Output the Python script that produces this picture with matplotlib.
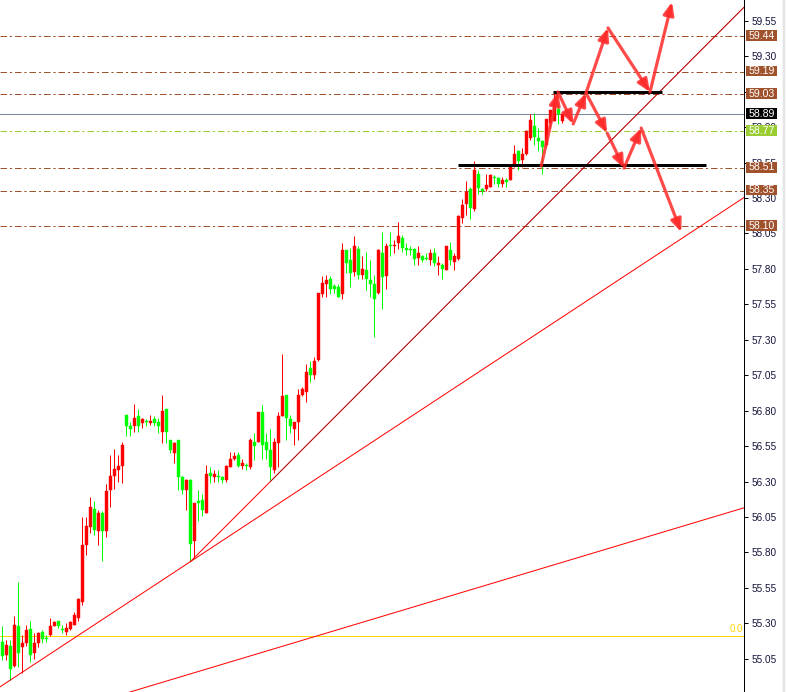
import matplotlib
matplotlib.use("Agg")
import matplotlib.pyplot as plt
import numpy as np
from matplotlib.patches import Rectangle
from matplotlib.transforms import blended_transform_factory

# ---------------- data ----------------
opens = [55.17, 55.08, 55.14, 55.00, 55.28, 55.13, 55.16, 55.26, 55.09, 55.16,
         55.24, 55.20, 55.22, 55.28, 55.32, 55.26, 55.24, 55.26, 55.29, 55.34,
         55.45, 55.85, 55.98, 56.11, 55.95, 56.08, 55.95, 56.24, 56.34, 56.38,
         56.41, 56.77, 56.69, 56.69, 56.76, 56.71, 56.73, 56.71, 56.74, 56.72,
         56.65, 56.81, 56.59, 56.50, 56.59, 56.33, 56.24, 56.31, 55.88, 56.16,
         56.17, 56.08, 56.36, 56.33, 56.34, 56.33, 56.31, 56.40, 56.46, 56.49,
         56.41, 56.42, 56.40, 56.58, 56.58, 56.79, 56.58, 56.52, 56.38, 56.57,
         56.76, 56.91, 56.74, 56.67, 56.72, 56.91, 56.93, 57.10, 57.05, 57.16,
         57.62, 57.69, 57.73, 57.68, 57.67, 57.62, 57.93, 57.86, 57.78, 57.94,
         57.76, 57.79, 57.72, 57.69, 57.63, 57.91, 57.75, 57.97, 57.96, 57.98,
         58.02, 57.95, 57.94, 57.94, 57.88, 57.89, 57.88, 57.86, 57.91, 57.83,
         57.83, 57.79, 57.93, 57.85, 57.87, 58.16, 58.26, 58.36, 58.22, 58.47,
         58.36, 58.36, 58.38, 58.45, 58.44, 58.40, 58.43, 58.43, 58.54, 58.63,
         58.57, 58.61, 58.72, 58.81, 58.72, 58.70, 58.67, 58.83, 58.84, 58.93,
         58.84]
highs = [55.28, 55.18, 55.18, 55.35, 55.59, 55.22, 55.29, 55.32, 55.23, 55.24,
         55.25, 55.22, 55.34, 55.32, 55.32, 55.29, 55.30, 55.32, 55.38, 55.48,
         56.05, 56.05, 56.19, 56.16, 56.10, 56.09, 56.28, 56.49, 56.53, 56.49,
         56.58, 56.77, 56.72, 56.85, 56.81, 56.75, 56.74, 56.77, 56.76, 56.75,
         56.91, 56.81, 56.59, 56.58, 56.59, 56.34, 56.32, 56.32, 56.15, 56.24,
         56.21, 56.42, 56.40, 56.38, 56.38, 56.34, 56.42, 56.51, 56.51, 56.51,
         56.46, 56.43, 56.61, 56.64, 56.79, 56.84, 56.64, 56.67, 56.61, 56.79,
         57.20, 56.91, 56.77, 56.72, 56.95, 56.97, 57.13, 57.15, 57.18, 57.63,
         57.75, 57.76, 57.75, 57.69, 57.69, 57.98, 57.93, 57.95, 58.03, 57.96,
         57.89, 57.92, 57.86, 57.76, 57.94, 58.06, 57.98, 58.06, 58.00, 58.13,
         58.04, 57.98, 57.96, 57.95, 57.96, 57.90, 57.91, 57.94, 57.95, 57.89,
         57.84, 57.96, 57.99, 57.91, 58.18, 58.29, 58.42, 58.38, 58.56, 58.50,
         58.37, 58.47, 58.47, 58.46, 58.45, 58.45, 58.44, 58.53, 58.67, 58.64,
         58.65, 58.78, 58.89, 58.90, 58.79, 58.71, 58.86, 58.92, 59.04, 58.96,
         58.90]
lows = [55.04, 55.04, 54.90, 54.99, 54.99, 54.95, 55.14, 55.03, 55.05, 55.13,
        55.16, 55.17, 55.21, 55.28, 55.27, 55.23, 55.22, 55.25, 55.29, 55.32,
        55.43, 55.78, 55.94, 55.92, 55.85, 55.74, 55.91, 56.12, 56.25, 56.30,
        56.29, 56.62, 56.62, 56.65, 56.65, 56.68, 56.69, 56.70, 56.69, 56.64,
        56.57, 56.57, 56.50, 56.43, 56.24, 56.21, 56.10, 55.74, 55.76, 56.02,
        56.06, 56.08, 56.29, 56.30, 56.30, 56.29, 56.30, 56.40, 56.45, 56.40,
        56.39, 56.38, 56.39, 56.45, 56.58, 56.46, 56.46, 56.31, 56.36, 56.40,
        56.76, 56.59, 56.64, 56.56, 56.59, 56.90, 56.86, 57.00, 57.02, 57.15,
        57.60, 57.60, 57.62, 57.63, 57.60, 57.59, 57.77, 57.67, 57.75, 57.73,
        57.73, 57.65, 57.60, 57.32, 57.62, 57.52, 57.66, 57.89, 57.91, 57.94,
        57.92, 57.90, 57.90, 57.83, 57.83, 57.85, 57.86, 57.83, 57.82, 57.76,
        57.73, 57.79, 57.83, 57.79, 57.86, 58.12, 58.18, 58.15, 58.21, 58.33,
        58.33, 58.35, 58.38, 58.40, 58.38, 58.38, 58.38, 58.43, 58.52, 58.50,
        58.52, 58.60, 58.71, 58.67, 58.63, 58.47, 58.66, 58.79, 58.84, 58.82,
        58.83]
closes = [55.07, 55.15, 54.98, 55.29, 55.09, 55.16, 55.25, 55.08, 55.16, 55.23,
          55.19, 55.19, 55.28, 55.31, 55.28, 55.25, 55.27, 55.31, 55.36, 55.47,
          55.85, 55.99, 56.12, 55.96, 56.08, 55.95, 56.23, 56.34, 56.39, 56.41,
          56.56, 56.69, 56.67, 56.75, 56.69, 56.74, 56.72, 56.73, 56.71, 56.69,
          56.80, 56.65, 56.52, 56.57, 56.33, 56.24, 56.31, 55.86, 56.15, 56.15,
          56.10, 56.35, 56.34, 56.35, 56.33, 56.31, 56.41, 56.46, 56.48, 56.41,
          56.43, 56.41, 56.59, 56.55, 56.79, 56.56, 56.52, 56.40, 56.58, 56.76,
          56.90, 56.75, 56.69, 56.72, 56.91, 56.95, 57.07, 57.05, 57.15, 57.63,
          57.70, 57.72, 57.66, 57.66, 57.60, 57.93, 57.84, 57.77, 57.96, 57.76,
          57.80, 57.73, 57.69, 57.59, 57.93, 57.74, 57.96, 57.96, 57.97, 58.03,
          57.95, 57.93, 57.93, 57.87, 57.91, 57.86, 57.87, 57.91, 57.84, 57.84,
          57.80, 57.96, 57.86, 57.89, 58.17, 58.25, 58.34, 58.23, 58.50, 58.37,
          58.35, 58.39, 58.46, 58.44, 58.40, 58.43, 58.41, 58.52, 58.61, 58.56,
          58.61, 58.77, 58.85, 58.73, 58.70, 58.66, 58.86, 58.92, 58.98, 58.89,
          58.89]

# horizontal levels
level_prices = [59.44, 59.19, 59.03, 58.51, 58.35, 58.10]
level_labels = ["59.44", "59.19", "59.03", "58.51", "58.35", "58.10"]
current_price = 58.89
current_label = "58.89"
green_level = 58.77
green_label = "58.77"
zero_level = 55.21
zero_label = "0.0"

# y axis tick values
tick_values = [59.55, 59.30, 59.05, 58.80, 58.55, 58.30, 58.05, 57.80, 57.55,
               57.30, 57.05, 56.80, 56.55, 56.30, 56.05, 55.80, 55.55, 55.30, 55.05]

# trend lines (bar index, price)
trend_a = [(2, 54.90), (47, 55.735)]
trend_b = [(47, 55.735), (67, 56.30)]
black_start = 67
trend_c = [(32.75, 54.823), (185.4, 56.115)]

# black support / resistance segments
seg_low = [(113.9, 58.53), (175.9, 58.53)]
seg_high = [(137.7, 59.045), (164.9, 59.045)]

# arrow paths (bar index, price)
arrows = [
    [(134.7, 58.525), (138.9, 59.047)],
    [(138.9, 59.047), (142.7, 58.822)],
    [(142.7, 58.822), (145.9, 59.040)],
    [(145.9, 59.040), (151.4, 59.499)],
    [(151.4, 59.499), (161.9, 59.047)],
    [(161.9, 59.047), (167.4, 59.682)],
    [(145.9, 59.040), (151.2, 58.758)],
    [(151.2, 58.758), (155.4, 58.511)],
    [(155.4, 58.511), (159.7, 58.793)],
    [(159.7, 58.793), (169.7, 58.060)],
]

# ---------------- figure ----------------
W, H = 786, 692
DPI = 100
fig = plt.figure(figsize=(W / DPI, H / DPI), dpi=DPI)
fig.patch.set_facecolor("white")
AX_RIGHT = 744
ax = fig.add_axes([0, 0, AX_RIGHT / W, 1])
ax.set_facecolor("white")

XMIN, XMAX = -0.575, 185.4
YMIN, YMAX = 54.816, 59.696
ax.set_xlim(XMIN, XMAX)
ax.set_ylim(YMIN, YMAX)

PX = 0.72  # one pixel in points

RED = "#ff0000"
GREEN = "#00ff00"
BROWN = "#a0522d"

# candles
n = len(opens)
idx = np.arange(n)
o = np.array(opens); h = np.array(highs); l = np.array(lows); c = np.array(closes)
up = c >= o
cols = np.where(up, RED, GREEN)
ax.vlines(idx, l, h, colors=cols, linewidth=1 * PX, zorder=3)
bottoms = np.minimum(o, c)
heights = np.maximum(np.abs(c - o), 0.008)
ax.bar(idx, heights, bottom=bottoms, width=0.75, color=cols, edgecolor=cols,
       linewidth=0.3, zorder=3)

# horizontal levels
dash = (0, (6.5, 2.9, 2.2, 2.9))
for p in level_prices:
    ax.axhline(p, color=BROWN, linewidth=1 * PX, linestyle=dash, zorder=2)
ax.axhline(green_level, color="#9acd32", linewidth=1 * PX, linestyle=dash, zorder=2)
ax.axhline(current_price, color="#778899", linewidth=1 * PX, zorder=2)
ax.axhline(zero_level, color="#ffd700", linewidth=1 * PX, zorder=2)


def extend(p1, p2, x0, x1):
    (xa, ya), (xb, yb) = p1, p2
    s = (yb - ya) / (xb - xa)
    return [x0, x1], [ya + s * (x0 - xa), ya + s * (x1 - xa)]


xs, ys = extend(trend_a[0], trend_a[1], XMIN, XMAX)
ax.plot(xs, ys, color=RED, linewidth=1 * PX, zorder=4)
xs, ys = extend(trend_b[0], trend_b[1], trend_b[0][0], XMAX)
ax.plot(xs, ys, color=RED, linewidth=1 * PX, zorder=4)
# thin black line lying on the upper part of the steep trend line
xs, ys = extend(trend_b[0], trend_b[1], black_start, XMAX)
ax.plot(xs, ys, color="black", linewidth=0.55 * PX, alpha=0.55, zorder=4.1)
xs, ys = extend(trend_c[0], trend_c[1], XMIN, XMAX)
ax.plot(xs, ys, color=RED, linewidth=1 * PX, zorder=4)

# black segments
for seg in (seg_low, seg_high):
    ax.plot([seg[0][0], seg[1][0]], [seg[0][1], seg[1][1]], color="black",
            linewidth=3 * PX, solid_capstyle="butt", zorder=5)

# arrows
for a in arrows:
    ax.annotate("", xy=a[1], xytext=a[0],
                arrowprops=dict(arrowstyle="-|>,head_length=0.75,head_width=0.32",
                                color="#ff2a2a", lw=3.2 * PX, alpha=0.85,
                                shrinkA=0, shrinkB=0), zorder=6)

# axis styling
for s in ("left", "top", "bottom"):
    ax.spines[s].set_visible(False)
ax.spines["right"].set_color("black")
ax.spines["right"].set_linewidth(1 * PX)
ax.set_xticks([])
ax.yaxis.tick_right()
ax.set_yticks(tick_values)
ax.set_yticklabels([f"{v:.2f}" for v in tick_values])
ax.tick_params(axis="y", direction="out", length=3, width=1 * PX, pad=2.5,
               labelsize=7.2, labelcolor="#14143c", colors="black")
for t in ax.get_yticklabels():
    t.set_fontfamily("Liberation Sans")

# label boxes on price axis
bt = blended_transform_factory(fig.transFigure, ax.transData)
BH = 0.074


def box(price, text, fc, tc="white"):
    r = Rectangle((746 / W, price - BH / 2 + 0.005), 31 / W, BH, transform=bt,
                  facecolor=fc, edgecolor="none", clip_on=False, zorder=10)
    fig.add_artist(r)
    fig.text(761.5 / W, price + 0.005, text, transform=bt, ha="center", va="center",
             fontsize=7.6, color=tc, family="Liberation Sans", zorder=11)


for p, lab in zip(level_prices, level_labels):
    box(p, lab, BROWN)
box(green_level, green_label, "#9acd32")
box(current_price, current_label, "black")

ax.text(XMAX - 0.3, zero_level + 0.012, zero_label, ha="right", va="bottom",
        fontsize=7, color="#ffd700", family="Liberation Sans", zorder=5)

# thin light border at the right edge of the picture
fig.add_artist(plt.Line2D([783.5 / W, 783.5 / W], [0, 1], transform=fig.transFigure,
                          color="#e4e4e4", linewidth=2.5 * PX))

fig.savefig("out.png", dpi=DPI)
